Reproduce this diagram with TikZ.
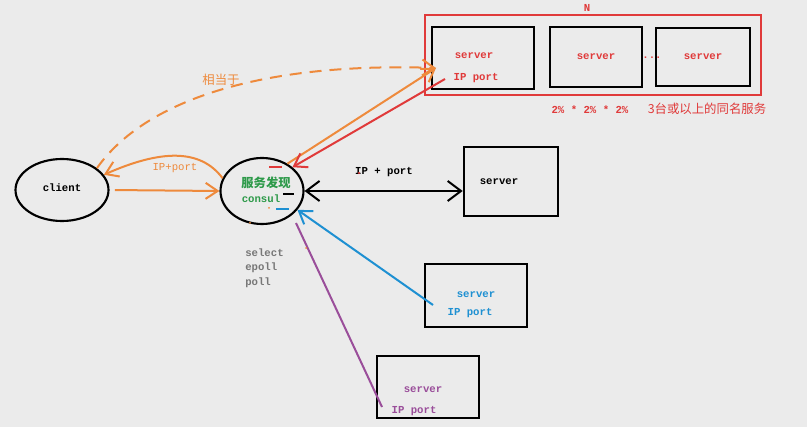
\documentclass[tikz,border=0pt]{standalone}
\usepackage{fontspec}
\setmonofont{Liberation Mono}
\newfontfamily\cjk{Noto Sans CJK SC}
\usetikzlibrary{arrows.meta,shapes.geometric}
\definecolor{bg}{HTML}{EBEBEB}
\definecolor{cor}{HTML}{EE8A3C}
\definecolor{cred}{HTML}{E03A3A}
\definecolor{cgreen}{HTML}{2E9A4A}
\definecolor{cblue}{HTML}{1E90D2}
\definecolor{cpur}{HTML}{9A4E9A}
\definecolor{cgray}{HTML}{777777}
\tikzset{
  box/.style={draw=black, line width=2pt, rectangle, inner sep=0pt},
  oval/.style={draw=black, line width=1.6pt, ellipse, inner sep=0pt},
  mono/.style={inner sep=0pt, font=\ttfamily\bfseries\fontsize{8}{9}\selectfont},
  cjktext/.style={inner sep=0pt, font=\cjk\fontsize{9.3}{11}\selectfont},
  conn/.style={line width=1.5pt},
  barb/.style={-{Straight Barb[length=9pt,width=12pt,line width=1.5pt]}},
  barbs/.style={{Straight Barb[length=10pt,width=15pt,line width=1.5pt]}-{Straight Barb[length=10pt,width=15pt,line width=1.5pt]}},
  tick/.style={line width=1.6pt},
}
\begin{document}
\begin{tikzpicture}[x=0.75pt,y=-0.75pt]
\fill[bg] (0,0) rectangle (807,427);
\useasboundingbox (0,0) rectangle (807,427);

% group frame
\node[draw=cred, line width=1.5pt, rectangle, minimum width=252pt, minimum height=60pt, inner sep=0pt] (frame) at (593,55) {};
\node[mono, text=cred] (nlab) at (587,8) {N};
\node[box, minimum width=76.5pt, minimum height=46.5pt] (s1) at (483,58) {};
\node[box, minimum width=69pt, minimum height=45pt] (s2) at (596,57) {};
\node[box, minimum width=70.5pt, minimum height=43.5pt] (s3) at (703,57) {};
\node[mono, text=cred] (s1t) at (474,56) {server};
\node[mono, text=cred] (s1p) at (476,78) {IP port};
\node[mono, text=cred] (s2t) at (596,57) {server};
\node[mono, text=cred] (s3t) at (703,57) {server};
\node[mono, text=cred] (dots) at (652,58) {...};
\node[mono, text=cred] (pct) at (590,110) {2\% * 2\% * 2\%};
\node[cjktext, text=cred] (three) at (707,109) {3台或以上的同名服务};

% client & discovery
\node[oval, minimum width=69.75pt, minimum height=46.5pt] (client) at (62,190) {};
\node[mono] (clientt) at (62,188) {client};
\node[oval, minimum width=62.25pt, minimum height=49.5pt] (consul) at (262,191) {};
\node[cjktext, text=cgreen, font=\cjk\bfseries\fontsize{9.2}{11}\selectfont] (fxt) at (266,183) {服务发现};
\node[mono, text=cgreen] (consult) at (261,199) {consul};

% other servers
\node[box, minimum width=70.5pt, minimum height=51.75pt] (rs) at (511,181.5) {};
\node[mono] (rst) at (499,182) {server};
\node[box, minimum width=76.5pt, minimum height=47.25pt] (bs) at (476,295.5) {};
\node[mono, text=cblue] (bst) at (476,295) {server};
\node[mono, text=cblue] (bsp) at (470,313) {IP port};
\node[box, minimum width=76.5pt, minimum height=46.5pt] (ps) at (428,387) {};
\node[mono, text=cpur] (pst) at (423,390) {server};
\node[mono, text=cpur] (psp) at (414,411) {IP port};

% io models
\node[mono, text=cgray, anchor=west] (sel) at (245,253) {select};
\node[mono, text=cgray, anchor=west] (epo) at (245,268) {epoll};
\node[mono, text=cgray, anchor=west] (pol) at (245,283) {poll};

% coordinates for connector ends
\coordinate (b1in) at (436,68);
\coordinate (b1out) at (445,79);
\coordinate (bsout) at (433,305);
\coordinate (psout) at (382,407);
\coordinate (csout) at (296,223);

% connectors
\draw[conn, cor, barb, shorten <=4pt] (client.east) -- (consul.west);
\draw[conn, cor, barb] (consul.162) .. controls (200,148) and (160,150) .. (client.20);
\node[mono, text=cor, font=\ttfamily\fontsize{8}{9}\selectfont] (ipp1) at (175,168) {IP+port};
\draw[conn, cor, barb, dashed, dash pattern=on 9pt off 6pt] (client.32) .. controls (145,100) and (262,62) .. (b1in);
\node[cjktext, text=cor] (xdy) at (221,80) {相当于};
\draw[conn, cor, barb] (consul.47) -- (b1in);
\draw[conn, cred, barb] (b1out) -- (consul.38);
\draw[conn, black, barbs] (consul.east) -- (consul.east -| rs.west);
\node[mono] (ipp2) at (384,172) {IP + port};
\fill[cred] (359,173) circle (1.2);
\draw[conn, cblue, barb] (bsout) -- (consul.-28);
\draw[conn, cpur] (csout) -- (psout);

% ticks near consul
\draw[tick, cred] (269,167) -- (282,167);
\draw[tick, black] (283,194) -- (294,194);
\draw[tick, cblue] (276,209) -- (289,209);
\fill[cor] (269,208) circle (1);
\fill[cor] (306,248) circle (1);
\fill[cor] (250,223) circle (1);
\end{tikzpicture}
\end{document}
